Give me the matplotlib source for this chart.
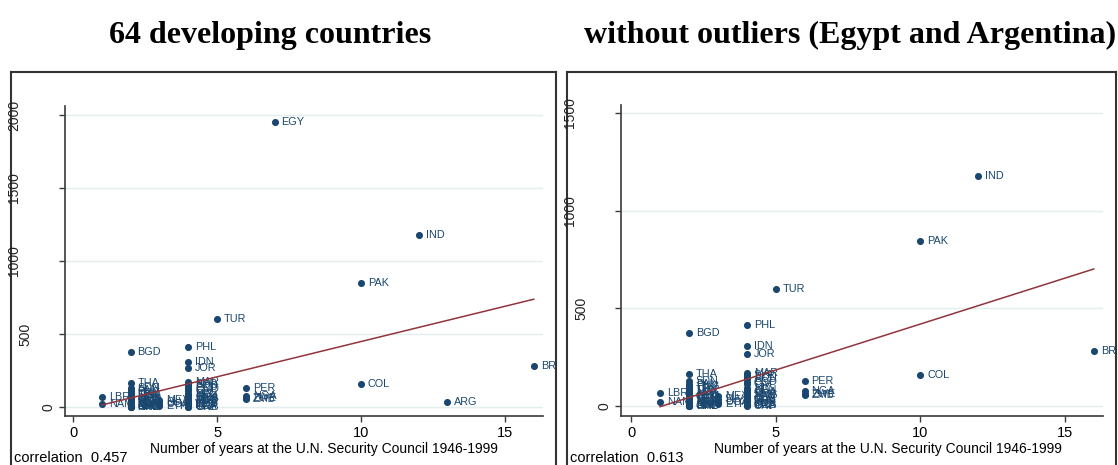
#!/usr/bin/env python3
"""Scatter of UN Security Council years vs. aid, with and without outliers."""

import matplotlib

matplotlib.use("Agg")
import matplotlib.pyplot as plt
import matplotlib.transforms as mtransforms
import numpy as np

# country code, years on the Security Council 1946-1999, y value
CODES = [
    "LBR", "NAM",
    "BGD", "THA", "SDN", "PAN", "PNG", "URY", "TUN", "LKA", "HTI", "JAM",
    "GTM", "CMR", "TGO", "BEN", "MLI", "NER", "BFA", "MWI", "RWA", "BDI",
    "SLE", "GIN", "NPL", "HND",
    "MEX", "SLV", "UGA", "ETH",
    "PHL", "IDN", "JOR", "MAR", "SYR", "BOL", "ECU", "COD", "CIV", "NIC",
    "KEN", "GHA", "SEN", "MYS", "TZA", "GAB", "CHL", "VEN", "CUB", "IRQ",
    "DZA", "GNB", "CRI",
    "TUR",
    "PER", "NGA", "ZWE", "ZMB",
    "EGY",
    "PAK", "COL",
    "IND",
    "ARG",
    "BRA",
]
YEARS = [
    1, 1,
    2, 2, 2, 2, 2, 2, 2, 2, 2, 2,
    2, 2, 2, 2, 2, 2, 2, 2, 2, 2,
    2, 2, 2, 2,
    3, 3, 3, 3,
    4, 4, 4, 4, 4, 4, 4, 4, 4, 4,
    4, 4, 4, 4, 4, 4, 4, 4, 4, 4,
    4, 4, 4,
    5,
    6, 6, 6, 6,
    7,
    10, 10,
    12,
    13,
    16,
]
VALUES = [
    68, 22,
    375, 164, 128, 115, 104, 94, 84, 76, 68, 60,
    53, 46, 40, 34, 28, 23, 18, 14, 10, 7,
    4, 2, 1, 0,
    50, 35, 22, 8,
    413, 306, 265, 170, 158, 148, 138, 124, 112, 90,
    80, 70, 62, 54, 46, 38, 30, 24, 18, 12,
    7, 3, 0,
    600,
    128, 77, 64, 54,
    1950,
    846, 158,
    1180,
    36,
    280,
]
OUTLIERS = ["EGY", "ARG"]

# linear fits (intercept, slope) and correlations
FIT_ALL = (-34.6, 48.3)
FIT_TRIM = (-50.5, 47.0)
CORR_ALL = 0.457
CORR_TRIM = 0.613

YTICKS_ALL = [0, 500, 1000, 1500, 2000]
YTICKS_TRIM = [0, 500, 1000, 1500]
XTICKS = [0, 5, 10, 15]

TITLES = ["64 developing countries", "without outliers (Egypt and Argentina)"]
XLABEL = "Number of years at the U.N. Security Council 1946-1999"

W, H = 1118, 465
NAVY = "#1a476f"
MAROON = "#90353b"
GRID = "#e3ecee"
AXIS = "#3a3a3a"


def fx(px):
    return px / W


def fy(py):
    return 1 - py / H


def draw_panel(fig, frame_x, ax_px, xlim, ylim, x, y, codes, fit, yticks,
               corr, title, title_x, xlabel_x):
    # outer frame around the whole graph region
    panel = fig.add_axes([fx(frame_x[0]), -0.05, fx(frame_x[1] - frame_x[0]),
                          fy(72) + 0.05])
    panel.set_xticks([])
    panel.set_yticks([])
    for sp in panel.spines.values():
        sp.set_color("#333333")
        sp.set_linewidth(1.5)
    panel.set_zorder(0)

    left, right, top, bottom = ax_px
    ax = fig.add_axes([fx(left), fy(bottom), fx(right - left), (bottom - top) / H])
    ax.set_zorder(1)
    ax.patch.set_alpha(0)
    ax.set_xlim(*xlim)
    ax.set_ylim(*ylim)

    for t in yticks:
        ax.axhline(t, color=GRID, linewidth=1.0, zorder=0)

    ax.scatter(x, y, s=26, color=NAVY, zorder=3, linewidths=0)
    for xi, yi, code in zip(x, y, codes):
        txt = ax.annotate(code, (xi, yi), xytext=(5.0, 0), textcoords="offset points",
                          fontsize=7.8, color=NAVY, va="center", ha="left",
                          annotation_clip=False, zorder=3)
        txt.set_clip_on(True)
        txt.set_clip_path(panel.patch)

    xs = np.array([min(x), max(x)])
    ax.plot(xs, fit[0] + fit[1] * xs, color=MAROON, linewidth=1.1, zorder=4)

    for side in ("top", "right"):
        ax.spines[side].set_visible(False)
    for side in ("left", "bottom"):
        ax.spines[side].set_color(AXIS)
        ax.spines[side].set_linewidth(1.2)

    ax.set_xticks(XTICKS)
    ax.set_xticklabels([str(t) for t in XTICKS], fontsize=10.5)
    ax.set_yticks(yticks)
    ax.set_yticklabels([])
    ax.tick_params(direction="out", length=4.3, width=1.0, color=AXIS, pad=3)

    # vertical y labels, each set off from the axis by its own width
    trans = mtransforms.blended_transform_factory(fig.transFigure, ax.transData)
    for t in yticks:
        s = str(t)
        ax.text(fx(left - 5 - 11.5 * len(s)), t, s, transform=trans, rotation=90,
                ha="center", va="center", fontsize=10, color="#222222", clip_on=False)

    fig.text(fx(xlabel_x), fy(453), XLABEL, ha="center", va="baseline", fontsize=10)
    fig.text(fx(frame_x[0] + 3), fy(462), f"correlation  {corr:.3f}", ha="left",
             va="baseline", fontsize=10.5)
    fig.text(fx(title_x), fy(43), title, ha="center", va="baseline", fontsize=23,
             fontweight="bold", family="Liberation Serif")
    return ax


def main():
    plt.rcParams["font.family"] = ["Liberation Sans", "DejaVu Sans"]
    fig = plt.figure(figsize=(W / 100, H / 100), dpi=100)

    years = np.array(YEARS, dtype=float)
    values = np.array(VALUES, dtype=float)
    keep = np.array([c not in OUTLIERS for c in CODES])
    codes_trim = [c for c in CODES if c not in OUTLIERS]

    draw_panel(fig, (11, 556), (65, 543, 106, 416), (-0.28, 16.32), (-61.6, 2061.6),
               years, values, CODES, FIT_ALL, YTICKS_ALL, CORR_ALL,
               TITLES[0], 270, 324)
    draw_panel(fig, (567, 1116), (621, 1103, 105, 416), (-0.35, 16.32), (-51, 1541),
               years[keep], values[keep], codes_trim, FIT_TRIM, YTICKS_TRIM, CORR_TRIM,
               TITLES[1], 850, 888)

    fig.savefig("out.png", dpi=100)
    plt.close(fig)


if __name__ == "__main__":
    main()
